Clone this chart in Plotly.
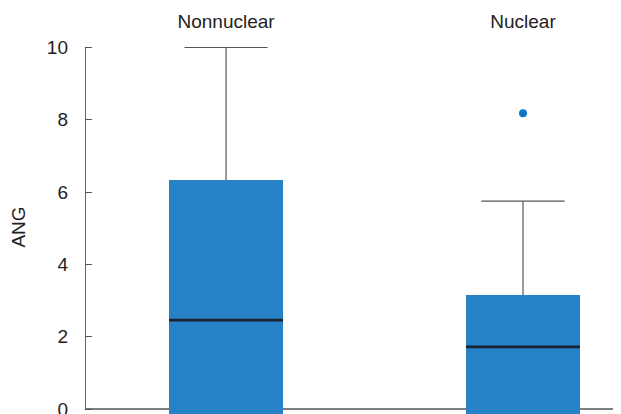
import plotly.graph_objects as go

categories = ["Nonnuclear", "Nuclear"]
lower_fence = [0.0, 0.0]
q1 = [0.0, 0.0]
median = [2.46, 1.72]
q3 = [6.33, 3.15]
upper_fence = [10.0, 5.75]
outlier_x = ["Nuclear"]
outlier_y = [8.18]
y_ticks = [0, 2, 4, 6, 8, 10]

Y_LO, Y_HI = -0.138, 10.207
X_LO, X_HI = -0.475, 1.33
BOX_W = 0.384
CAP_W = 0.28

BLUE = "#2781c6"
FONT = "Liberation Sans, Arial, sans-serif"

pos = list(range(len(categories)))
fig = go.Figure()

# boxes (Q1..Q3); boxes with Q1 at the floor run to the bottom of the frame
bases = [Y_LO if v <= 0 else v for v in q1]
fig.add_trace(go.Bar(
    x=pos, y=[t - b for t, b in zip(q3, bases)], base=bases,
    width=BOX_W, marker=dict(color=BLUE, line=dict(width=0)),
    hoverinfo="skip", showlegend=False))

# whiskers and caps
wx, wy = [], []
for p, top, hi in zip(pos, q3, upper_fence):
    wx += [p, p, None, p - CAP_W / 2, p + CAP_W / 2, None]
    wy += [top, hi, None, hi, hi, None]
fig.add_trace(go.Scatter(x=wx, y=wy, mode="lines",
                         line=dict(color="#555555", width=1.2),
                         hoverinfo="skip", showlegend=False, cliponaxis=False))

# medians
mx, my = [], []
for p, m in zip(pos, median):
    mx += [p - BOX_W / 2, p + BOX_W / 2, None]
    my += [m, m, None]
fig.add_trace(go.Scatter(x=mx, y=my, mode="lines",
                         line=dict(color="#1c2330", width=2.6),
                         hoverinfo="skip", showlegend=False))

# outliers
fig.add_trace(go.Scatter(x=[categories.index(c) for c in outlier_x], y=outlier_y,
                         mode="markers", marker=dict(color="#0b76c4", size=8),
                         hoverinfo="skip", showlegend=False))

# axis lines
fig.add_shape(type="line", xref="x", yref="y", x0=X_LO, x1=X_LO, y0=0, y1=max(y_ticks),
              line=dict(color="#333333", width=1.5), layer="below")
fig.add_shape(type="line", xref="x", yref="y", x0=X_LO, x1=X_HI, y0=0, y1=0,
              line=dict(color="#555555", width=1.5), layer="below")

fig.update_layout(
    width=621, height=414,
    margin=dict(l=77, r=8, t=32, b=8, autoexpand=False),
    paper_bgcolor="white", plot_bgcolor="white",
    font=dict(family=FONT, size=19, color="#222222"),
    bargap=0,
    xaxis=dict(range=[X_LO, X_HI], side="top", tickvals=pos, ticktext=categories,
               showgrid=False, zeroline=False, showline=False, ticks="",
               automargin=False,
               tickfont=dict(size=19, color="#222222"), ticklabelstandoff=7),
    yaxis=dict(range=[Y_LO, Y_HI], tickvals=y_ticks, showgrid=False, zeroline=False,
               showline=False, ticks="inside", ticklen=7, tickcolor="#555555",
               tickwidth=1.2, ticklabelstandoff=16, automargin=False,
               tickfont=dict(size=19, color="#222222"),
               title=dict(text="ANG", font=dict(size=19, color="#222222"), standoff=20)),
)

fig.write_html("out.html")
